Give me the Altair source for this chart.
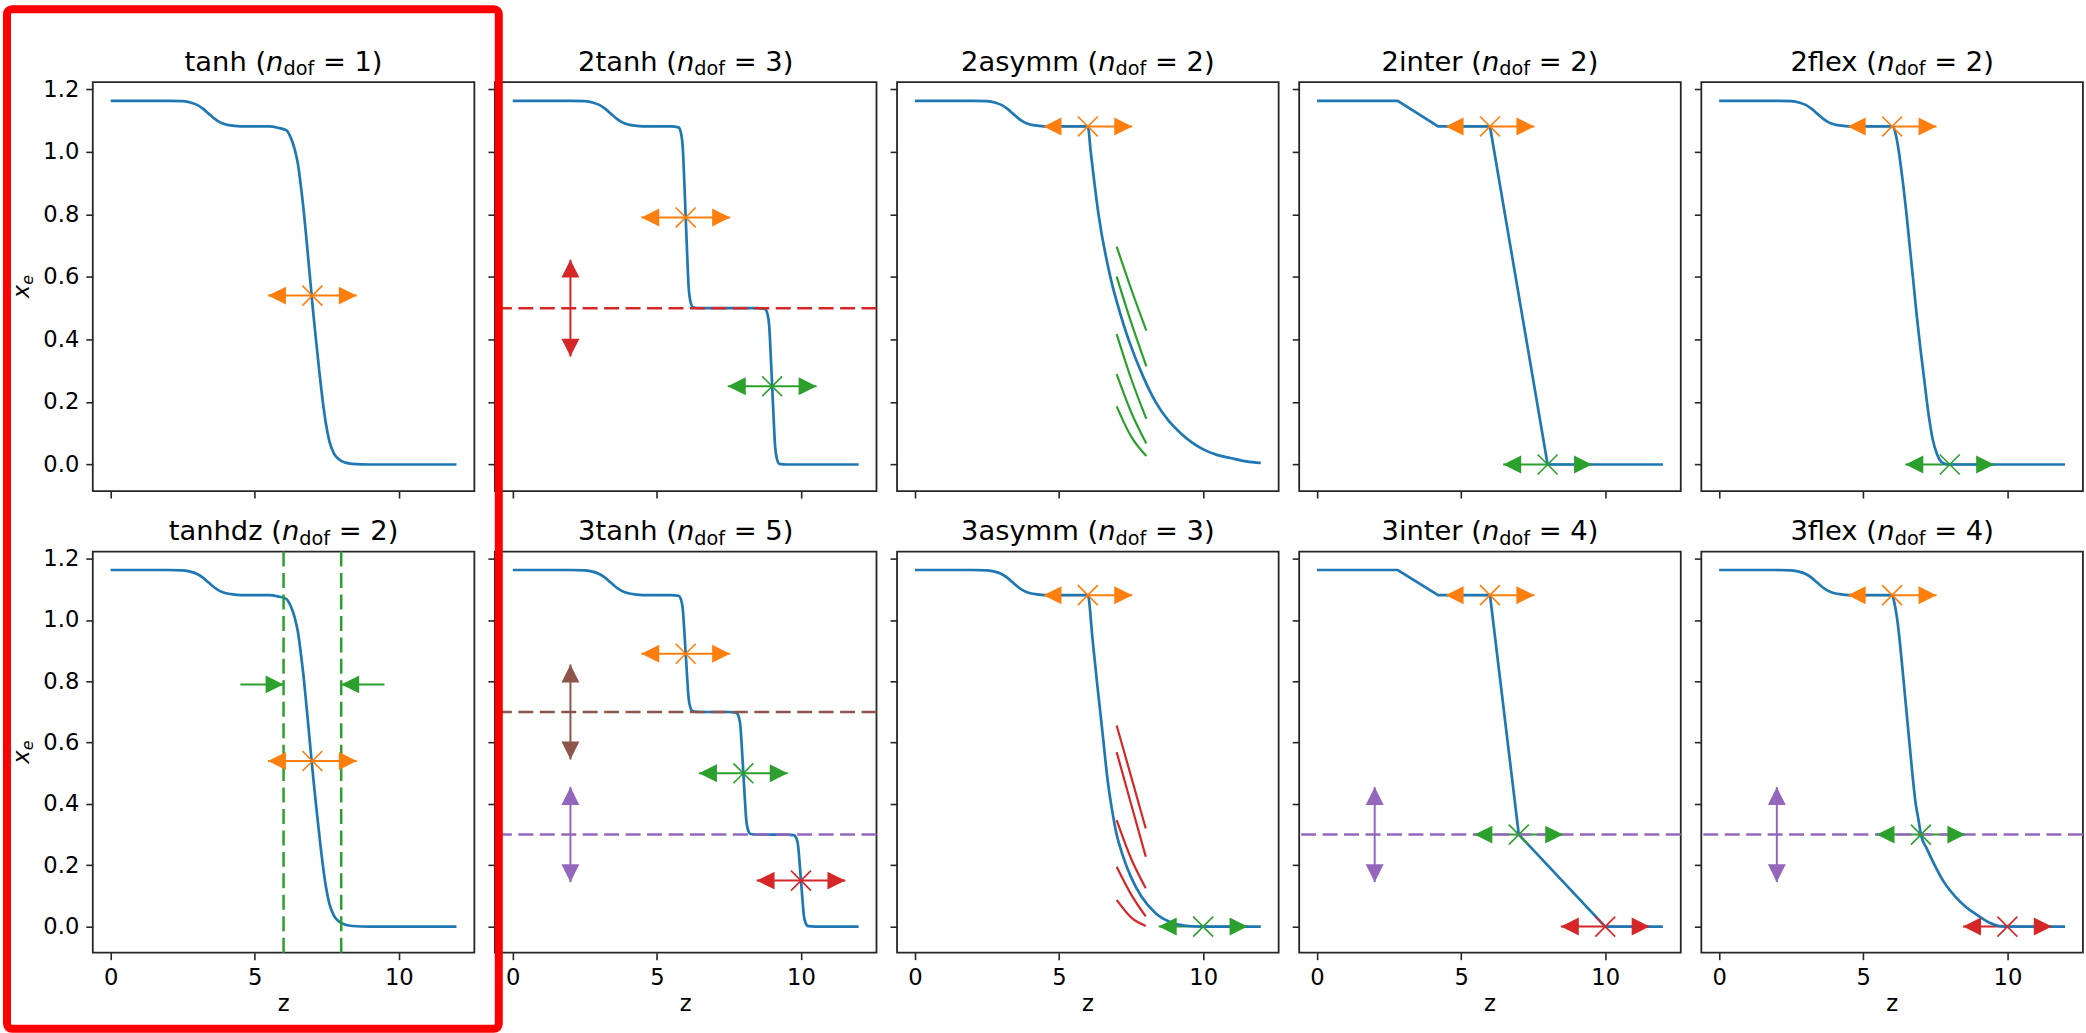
import altair as alt
import pandas as pd

# ---------------- values ----------------
NAMES = ["tanh", "2tanh", "2asymm", "2inter", "2flex",
         "tanhdz", "3tanh", "3asymm", "3inter", "3flex"]
NDOF = [1, 3, 2, 2, 2, 2, 5, 3, 4, 4]

Z_TICKS = [0, 5, 10]
XE_TICKS = [0.0, 0.2, 0.4, 0.6, 0.8, 1.0, 1.2]
Z_RANGE = [-0.62, 12.62]
XE_RANGE = [-0.085, 1.223]

# helium (low-z) part shared by the smooth models
HE_Z = [0.0, 1.0, 2.0, 2.5, 2.8, 3.0, 3.2, 3.4, 3.6, 3.8, 4.0, 4.3, 4.7, 5.2]
HE_XE = [1.163, 1.163, 1.163, 1.162, 1.157, 1.150, 1.138, 1.122, 1.106, 1.094, 1.087, 1.083, 1.081, 1.081]

TANH_Z = [5.5, 5.8, 6.09, 6.25, 6.38, 6.5, 6.61, 6.7, 6.78, 6.87, 6.95, 7.04, 7.13, 7.25,
          7.36, 7.47, 7.59, 7.75, 7.93, 8.15, 8.39, 9.0, 12.0]
TANH_XE = [1.081, 1.077, 1.069, 1.045, 1.01, 0.96, 0.883, 0.81, 0.734, 0.645, 0.564, 0.475, 0.394, 0.29,
           0.202, 0.13, 0.074, 0.035, 0.016, 0.006, 0.002, 0.0, 0.0]

TANH2_Z = [5.5, 5.75, 5.84, 5.90, 5.95, 6.00, 6.05, 6.10, 6.16, 6.25, 6.5,
           8.5, 8.75, 8.84, 8.90, 8.95, 9.00, 9.05, 9.10, 9.16, 9.25, 9.5, 12.0]
TANH2_XE = [1.081, 1.078, 1.058, 1.011, 0.907, 0.790, 0.674, 0.570, 0.523, 0.503, 0.5,
            0.5, 0.497, 0.48, 0.44, 0.35, 0.25, 0.15, 0.06, 0.02, 0.002, 0.0, 0.0]

TANH3_Z = [5.5, 5.75, 5.84, 5.90, 5.95, 6.00, 6.05, 6.10, 6.16, 6.25, 6.5,
           7.5, 7.75, 7.84, 7.90, 7.95, 8.00, 8.05, 8.10, 8.16, 8.25, 8.5,
           9.5, 9.75, 9.84, 9.90, 9.95, 10.00, 10.05, 10.10, 10.16, 10.25, 10.5, 12.0]
TANH3_XE = [1.081, 1.079, 1.066, 1.035, 0.967, 0.890, 0.814, 0.746, 0.715, 0.702, 0.7,
            0.7, 0.698, 0.684, 0.652, 0.58, 0.50, 0.42, 0.348, 0.316, 0.302, 0.3,
            0.3, 0.2985, 0.288, 0.264, 0.21, 0.15, 0.09, 0.036, 0.012, 0.0015, 0.0, 0.0]

ASYM2_Z = [5.6, 6.0, 6.1, 6.37, 6.78, 7.1, 7.41, 7.9, 8.35, 8.8, 9.22, 9.97, 10.5, 10.98, 11.5, 12.0]
ASYM2_XE = [1.081, 1.081, 1.0, 0.8, 0.6, 0.49, 0.4, 0.285, 0.2, 0.14, 0.1, 0.05, 0.03, 0.02, 0.01, 0.005]

ASYM3_Z = [5.6, 6.0, 6.16, 6.32, 6.51, 6.69, 6.85, 7.0, 7.19, 7.49, 7.86, 8.36, 8.98, 9.5, 10.0, 12.0]
ASYM3_XE = [1.081, 1.081, 0.94, 0.795, 0.632, 0.475, 0.375, 0.30, 0.238, 0.163, 0.098, 0.043, 0.011, 0.002, 0.0, 0.0]

FLEX2_Z = [5.6, 6.0, 6.1, 6.2, 6.35, 6.5, 6.62, 6.72, 6.85, 6.97, 7.09, 7.25, 7.41, 7.55, 7.65, 7.8, 8.0, 12.0]
FLEX2_XE = [1.081, 1.081, 1.065, 1.02, 0.92, 0.80, 0.69, 0.60, 0.48, 0.38, 0.29, 0.17, 0.08, 0.035, 0.015, 0.003, 0.0, 0.0]

FLEX3_Z = [5.6, 6.0, 6.08, 6.18, 6.4, 6.6, 6.82, 6.92, 7.0, 7.2, 7.48, 7.8, 8.2, 8.55, 8.92, 9.4, 9.9, 12.0]
FLEX3_XE = [1.081, 1.081, 1.055, 1.0, 0.8, 0.6, 0.4, 0.345, 0.3, 0.255, 0.2, 0.145, 0.097, 0.065, 0.04, 0.012, 0.0, 0.0]

INTER2_Z = [0.0, 2.8, 4.2, 6.0, 8.0, 12.0]
INTER2_XE = [1.163, 1.163, 1.081, 1.081, 0.0, 0.0]
INTER3_Z = [0.0, 2.8, 4.2, 6.0, 7.0, 10.0, 12.0]
INTER3_XE = [1.163, 1.163, 1.081, 1.081, 0.3, 0.0, 0.0]

# short parallel strokes (arc id, z, xe)
GREEN_ARCS = [
    (1, 7.0, 0.697), (1, 7.5, 0.562), (1, 8.03, 0.428),
    (2, 7.0, 0.601), (2, 7.5, 0.455), (2, 8.03, 0.314),
    (3, 7.0, 0.417), (3, 7.5, 0.275), (3, 8.03, 0.146),
    (4, 7.0, 0.289), (4, 7.5, 0.168), (4, 8.03, 0.067),
    (5, 7.0, 0.186), (5, 7.5, 0.090), (5, 8.03, 0.027),
]
RED_ARCS = [
    (1, 7.0, 0.656), (1, 7.5, 0.490), (1, 8.01, 0.320),
    (2, 7.0, 0.569), (2, 7.5, 0.400), (2, 8.01, 0.228),
    (3, 7.0, 0.347), (3, 7.5, 0.222), (3, 8.01, 0.125),
    (4, 7.0, 0.195), (4, 7.5, 0.105), (4, 8.01, 0.033),
    (5, 7.0, 0.087), (5, 7.5, 0.030), (5, 8.01, 0.002),
]

# crosses with horizontal double arrows: (z, xe, colour key)
CROSS = {
    0: [(7.0, 0.54, "o")],
    1: [(6.0, 0.79, "o"), (9.0, 0.25, "g")],
    2: [(6.0, 1.081, "o")],
    3: [(6.0, 1.081, "o"), (8.0, 0.0, "g")],
    4: [(6.0, 1.081, "o"), (8.0, 0.0, "g")],
    5: [(7.0, 0.54, "o")],
    6: [(6.0, 0.89, "o"), (8.0, 0.5, "g"), (10.0, 0.15, "r")],
    7: [(6.0, 1.081, "o"), (10.0, 0.0, "g")],
    8: [(6.0, 1.081, "o"), (7.0, 0.3, "g"), (10.0, 0.0, "r")],
    9: [(6.0, 1.081, "o"), (7.0, 0.3, "g"), (10.0, 0.0, "r")],
}
H_HALF = 1.54
V_HALF = 0.155
V_ARROWS = {1: [(2.0, 0.5, "r")], 6: [(2.0, 0.7, "b"), (2.0, 0.3, "p")],
            8: [(2.0, 0.3, "p")], 9: [(2.0, 0.3, "p")]}
H_LINES = {1: [(0.5, "r")], 6: [(0.7, "b"), (0.3, "p")], 8: [(0.3, "p")], 9: [(0.3, "p")]}
V_LINES = {5: [(6.0, "g"), (8.0, "g")]}
IN_ARROWS = {5: [(4.5, 6.0, 0.79, "g"), (9.5, 8.0, 0.79, "g")]}

CURVES = {
    0: (HE_Z + TANH_Z, HE_XE + TANH_XE, "monotone"),
    1: (HE_Z + TANH2_Z, HE_XE + TANH2_XE, "monotone"),
    2: (HE_Z + ASYM2_Z, HE_XE + ASYM2_XE, "monotone"),
    3: (INTER2_Z, INTER2_XE, "linear"),
    4: (HE_Z + FLEX2_Z, HE_XE + FLEX2_XE, "monotone"),
    5: (HE_Z + TANH_Z, HE_XE + TANH_XE, "monotone"),
    6: (HE_Z + TANH3_Z, HE_XE + TANH3_XE, "monotone"),
    7: (HE_Z + ASYM3_Z, HE_XE + ASYM3_XE, "monotone"),
    8: (INTER3_Z, INTER3_XE, "linear"),
    9: (HE_Z + FLEX3_Z, HE_XE + FLEX3_XE, "monotone"),
}
ARCS = {2: ("g", GREEN_ARCS), 7: ("r", RED_ARCS)}

# ---------------- style ----------------
COL = {"blue": "#1f77b4", "o": "#ff7f0e", "g": "#2ca02c", "r": "#d62728",
       "p": "#9467bd", "b": "#8c564b"}
FONT = "DejaVu Sans"
TICK_FS = 22.7
TITLE_FS = 27.4
SUB_FS = 19.3
PW = 382.5
PH = [410, 402]
COL_SP = 20.1
ROW_SP = 60.7
P0X, P0Y = 92.0, 80.0
STEP_X = PW + COL_SP
STEP_Y = PH[0] + ROW_SP

RIGHT = "M0,0L-2,-1L-2,1Z"
LEFT = "M0,0L2,-1L2,1Z"
UP = "M0,0L-1,2L1,2Z"
DOWN = "M0,0L-1,-2L1,-2Z"
XMARK = "M-1,-1L1,1M-1,1L1,-1"

# DejaVu Sans advance widths (units of 1/2048 em) for laying out the titles
ADV = {' ': 651, '(': 799, ')': 799, '=': 1716, 'a': 1255, 'd': 1300, 'e': 1260, 'f': 721,
       'h': 1298, 'i': 569, 'l': 569, 'm': 1995, 'n': 1298, 'o': 1253, 'r': 842, 's': 1067,
       't': 803, 'x': 1212, 'y': 1212, 'z': 1075}
for _d in "0123456789":
    ADV[_d] = 1303


def tw(s, fs):
    return sum(ADV[c] for c in s) / 2048.0 * fs


DUMMY = pd.DataFrame({"a": [0]})


def txt(s, x, y, fs, style="normal", angle=0):
    return alt.Chart(DUMMY).mark_text(
        text=s, align="left", baseline="alphabetic", font=FONT, fontSize=fs,
        fontStyle=style, angle=angle, color="black"
    ).encode(x=alt.value(x), y=alt.value(y))


def make_panel(i):
    row, col = divmod(i, 5)
    H = PH[row]
    xs = alt.Scale(domain=Z_RANGE, nice=False, zero=False)
    ys = alt.Scale(domain=XE_RANGE, nice=False, zero=False)
    xa = alt.Axis(values=Z_TICKS, labels=(row == 1), title=None, format="d")
    ya = alt.Axis(values=XE_TICKS, labels=(col == 0), title=None, format=".1f")

    def X(f):
        return alt.X(f"{f}:Q", scale=xs, axis=xa)

    def Y(f):
        return alt.Y(f"{f}:Q", scale=ys, axis=ya)

    layers = []
    if i == 0:
        # invisible full-canvas rectangle that fixes the page extent
        layers.append(alt.Chart(DUMMY).mark_rect(fill="white", opacity=0, strokeWidth=0).encode(
            x=alt.value(-P0X), x2=alt.value(2086 - P0X - 1),
            y=alt.value(-P0Y), y2=alt.value(1033 - P0Y - 1)))

    shafts, heads = [], []
    for (zc, xe, c) in CROSS.get(i, []):
        shafts.append({"x1": zc - H_HALF, "x2": zc + H_HALF, "y1": xe, "y2": xe, "c": COL[c]})
        heads.append({"z": zc - H_HALF, "xe": xe, "s": LEFT, "c": COL[c]})
        heads.append({"z": zc + H_HALF, "xe": xe, "s": RIGHT, "c": COL[c]})
    for (zc, xc, c) in V_ARROWS.get(i, []):
        shafts.append({"x1": zc, "x2": zc, "y1": xc - V_HALF, "y2": xc + V_HALF, "c": COL[c]})
        heads.append({"z": zc, "xe": xc + V_HALF, "s": UP, "c": COL[c]})
        heads.append({"z": zc, "xe": xc - V_HALF, "s": DOWN, "c": COL[c]})
    for (z0, z1, xe, c) in IN_ARROWS.get(i, []):
        shafts.append({"x1": z0, "x2": z1, "y1": xe, "y2": xe, "c": COL[c]})
        heads.append({"z": z1, "xe": xe, "s": RIGHT if z1 > z0 else LEFT, "c": COL[c]})

    if shafts:
        layers.append(alt.Chart(pd.DataFrame(shafts)).mark_rule(strokeWidth=2.0).encode(
            x=X("x1"), x2="x2", y=Y("y1"), y2="y2", color=alt.Color("c:N", scale=None)))

    cz, cx, interp = CURVES[i]
    layers.append(alt.Chart(pd.DataFrame({"z": cz, "xe": cx})).mark_line(
        color=COL["blue"], strokeWidth=2.7, interpolate=interp).encode(x=X("z"), y=Y("xe")))

    for (yv, c) in H_LINES.get(i, []):
        layers.append(alt.Chart(pd.DataFrame({"xe": [yv]})).mark_rule(
            color=COL[c], strokeWidth=2.5, strokeDash=[15, 6.5]).encode(y=Y("xe")))
    for (zv, c) in V_LINES.get(i, []):
        layers.append(alt.Chart(pd.DataFrame({"z": [zv]})).mark_rule(
            color=COL[c], strokeWidth=2.5, strokeDash=[15, 6.5]).encode(x=X("z")))

    if i in ARCS:
        c, pts = ARCS[i]
        adf = pd.DataFrame(pts, columns=["arc", "z", "xe"])
        layers.append(alt.Chart(adf).mark_line(
            color=COL[c], strokeWidth=2.2, interpolate="monotone").encode(
            x=X("z"), y=Y("xe"), detail="arc:N"))

    if heads:
        layers.append(alt.Chart(pd.DataFrame(heads)).mark_point(
            filled=True, size=324, opacity=1, strokeWidth=0).encode(
            x=X("z"), y=Y("xe"), shape=alt.Shape("s:N", scale=None),
            color=alt.Color("c:N", scale=None)))

    crosses = [{"z": z, "xe": xe, "c": COL[c]} for (z, xe, c) in CROSS.get(i, [])]
    if crosses:
        layers.append(alt.Chart(pd.DataFrame(crosses)).mark_point(
            shape=XMARK, filled=False, size=400, strokeWidth=1.6, opacity=1).encode(
            x=X("z"), y=Y("xe"), color=alt.Color("c:N", scale=None)))

    # title:  name (n_dof = k)   (leading spaces are collapsed by SVG, so offset explicitly)
    p1 = f"{NAMES[i]} ("
    p4 = f"= {NDOF[i]})"
    w1 = tw(p1, TITLE_FS)
    w2 = tw("n", TITLE_FS)
    w3 = tw("dof", SUB_FS)
    gap = tw(" ", TITLE_FS)
    w4 = tw(p4, TITLE_FS)
    x0 = PW / 2 - (w1 + w2 + w3 + gap + w4) / 2
    ty = -11.2
    layers.append(txt(p1, x0, ty, TITLE_FS))
    layers.append(txt("n", x0 + w1, ty, TITLE_FS, "italic"))
    layers.append(txt("dof", x0 + w1 + w2, ty + 4.5, SUB_FS))
    layers.append(txt(p4, x0 + w1 + w2 + w3 + gap, ty, TITLE_FS))

    if col == 0:
        wx = tw("x", TICK_FS)
        we = tw("e", TICK_FS * 0.7)
        ystart = H / 2 + (wx + we) / 2
        layers.append(txt("x", -64.0, ystart, TICK_FS, "italic", 270))
        layers.append(txt("e", -60.0, ystart - wx, TICK_FS * 0.7, "italic", 270))
    if row == 1:
        layers.append(txt("z", PW / 2 - tw("z", TICK_FS) / 2, H + 58, TICK_FS))

    if i == 9:
        ox = P0X + 4 * STEP_X
        oy = P0Y + STEP_Y
        layers.append(alt.Chart(DUMMY).mark_rect(
            fill=None, fillOpacity=0, stroke="#ff0000", strokeWidth=8, cornerRadius=5).encode(
            x=alt.value(4 - ox), x2=alt.value(497 - ox),
            y=alt.value(7 - oy), y2=alt.value(1029 - oy)))

    return alt.layer(*layers).properties(width=PW, height=H)


panels = [make_panel(i) for i in range(10)]

chart = alt.concat(
    *panels, columns=5, spacing={"row": ROW_SP, "column": COL_SP}, bounds="flush"
).properties(
    padding={"left": 0, "top": 0, "right": 0, "bottom": 0}, background="white"
).configure_view(
    stroke="#262626", strokeWidth=1.8, fill=None
).configure_axis(
    labelFont=FONT, labelFontSize=TICK_FS, labelColor="black", labelPadding=7,
    tickColor="#262626", tickWidth=1.6, tickSize=7, domain=False, grid=False,
    labelFlush=False, zindex=1
)

chart.save("out.html", embed_options={"renderer": "svg", "actions": False})
